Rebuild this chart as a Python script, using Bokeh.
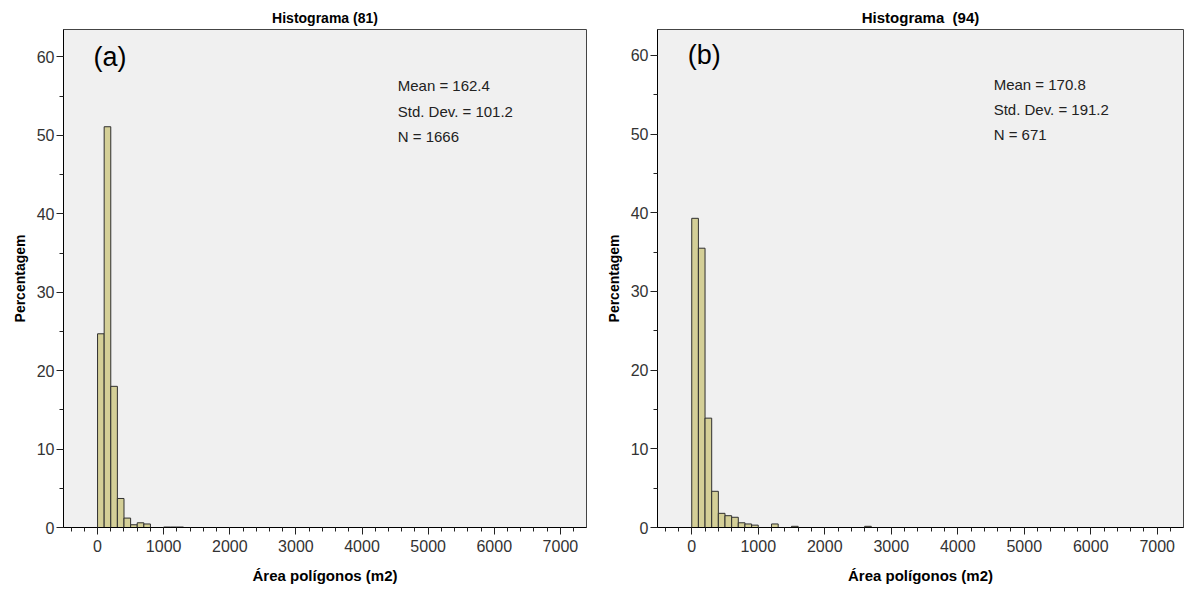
from bokeh.plotting import figure
from bokeh.layouts import row
from bokeh.models import Range1d, SingleIntervalTicker, Label
from bokeh.embed import file_html
from bokeh.resources import INLINE

# ---- data (percent of polygons per 100 m2 bin) ----
bin_width = 100
bins_a = [0, 100, 200, 300, 400, 500, 600, 700, 1000, 1100, 1200]
pct_a = [24.7, 51.1, 18.0, 3.7, 1.2, 0.35, 0.6, 0.45, 0.06, 0.06, 0.06]

bins_b = [0, 100, 200, 300, 400, 500, 600, 700, 800, 900, 1200, 1500, 2600]
pct_b = [39.3, 35.5, 13.9, 4.6, 1.8, 1.5, 1.3, 0.6, 0.45, 0.3, 0.45, 0.15, 0.15]

titles = ["Histograma (81)", "Histograma\u00a0\u00a0(94)"]
panel_tags = ["(a)", "(b)"]
stats_a = ["Mean = 162.4", "Std. Dev. = 101.2", "N = 1666"]
stats_b = ["Mean = 170.8", "Std. Dev. = 191.2", "N = 671"]
x_label = "Área polígonos (m2)"
y_label = "Percentagem"

FONT = "Liberation Sans"
BAR_FILL = "#d4cf97"
BAR_LINE = "#2f2f2f"


def make_panel(bins, pct, title, tag, stats, width, height, bl, br, bt, bb,
               ytop, title_size):
    p = figure(width=width, height=height, output_backend="svg",
               toolbar_location=None, x_range=Range1d(-515, 7395),
               y_range=Range1d(0, ytop),
               min_border_left=bl, min_border_right=br,
               min_border_top=bt, min_border_bottom=bb)
    p.title.text = title
    p.title.align = "center"
    p.title.text_font = FONT
    p.title.text_font_size = title_size
    p.title.text_font_style = "bold"
    p.title.text_color = "black"
    p.title.standoff = 8
    p.title.offset = 0

    p.background_fill_color = "#f0f0f0"
    p.border_fill_color = "white"
    p.outline_line_color = "#444444"
    p.outline_line_width = 1
    p.xgrid.visible = False
    p.ygrid.visible = False

    left = bins
    right = [b + bin_width for b in bins]
    p.quad(left=left, right=right, top=pct, bottom=0,
           fill_color=BAR_FILL, line_color=BAR_LINE, line_width=1)

    p.xaxis.ticker = SingleIntervalTicker(interval=1000, num_minor_ticks=5)
    p.yaxis.ticker = SingleIntervalTicker(interval=10, num_minor_ticks=2)
    for ax in (p.xaxis, p.yaxis):
        ax.axis_line_color = "black"
        ax.major_tick_line_color = "#222222"
        ax.minor_tick_line_color = "#222222"
        ax.major_tick_in = 0
        ax.major_tick_out = 7
        ax.minor_tick_in = 0
        ax.minor_tick_out = 4
        ax.major_label_text_font = FONT
        ax.major_label_text_font_size = "16px"
        ax.major_label_text_color = "#333333"
        ax.axis_label_text_font = FONT
        ax.axis_label_text_font_style = "bold"
        ax.axis_label_text_color = "black"
    p.xaxis.axis_label = x_label
    p.xaxis.axis_label_text_font_size = "15px"
    p.xaxis.axis_label_standoff = 12
    p.xaxis.major_label_standoff = 5
    p.yaxis.axis_label = y_label
    p.yaxis.axis_label_text_font_size = "14px"
    p.yaxis.axis_label_standoff = 6
    p.yaxis.major_label_standoff = 2

    p.add_layout(Label(x=-60, y=60, text=tag, text_font=FONT,
                       text_font_size="27px", text_color="black",
                       text_baseline="middle"))
    for i, s in enumerate(stats):
        p.add_layout(Label(x=4540, y=56.3 - 3.2 * i, text=s, text_font=FONT,
                           text_font_size="15px", text_color="#222222",
                           text_baseline="middle"))
    return p


p1 = make_panel(bins_a, pct_a, titles[0], panel_tags[0], stats_a,
                602, 593, 63, 16, 29, 66, 63.5, "14px")
p2 = make_panel(bins_b, pct_b, titles[1], panel_tags[1], stats_b,
                584, 593, 55, 3, 26, 62, 63.3, "15px")

layout = row(p1, p2)
open("out.html", "w").write(file_html(layout, INLINE))
